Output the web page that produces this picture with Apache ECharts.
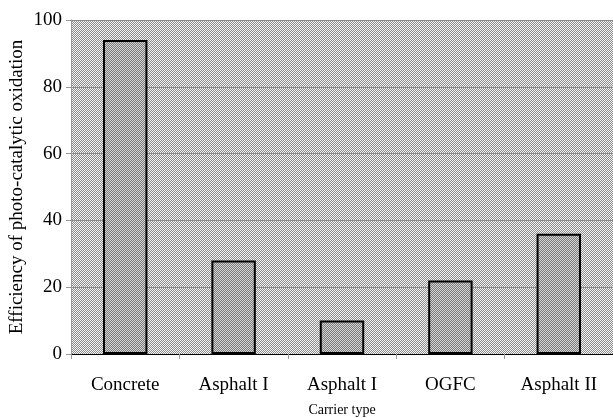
<!DOCTYPE html>
<html>
<head>
<meta charset="utf-8">
<script src="https://cdn.jsdelivr.net/npm/echarts@6/dist/echarts.min.js"></script>
<style>
  html, body { margin: 0; padding: 0; background: #fff; }
  #chart { width: 613px; height: 418px; }
</style>
</head>
<body>
<div id="chart"></div>
<script>
const categories = ["Concrete", "Asphalt I", "Asphalt I", "OGFC", "Asphalt II"];
const efficiency = [94, 28, 10, 22, 36];
const yTicks = [0, 20, 40, 60, 80, 100];

// 2x2 checker patterns to imitate the stippled fills
function checker(a, b) {
  const c = document.createElement("canvas");
  c.width = 2;
  c.height = 2;
  const ctx = c.getContext("2d");
  ctx.fillStyle = a;
  ctx.fillRect(0, 0, 2, 2);
  ctx.fillStyle = b;
  ctx.fillRect(1, 0, 1, 1);
  ctx.fillRect(0, 1, 1, 1);
  return { image: c, repeat: "repeat" };
}

const chart = echarts.init(document.getElementById("chart"));
const serif = "Liberation Serif";

chart.setOption({
  animation: false,
  grid: {
    left: 71,
    right: 0,
    top: 20,
    bottom: 64,
    outerBoundsMode: "none",
    containLabel: false,
    show: true,
    borderWidth: 0,
    backgroundColor: checker("#f4f4f4", "#8c8c8c"),
  },
  xAxis: {
    type: "category",
    data: categories,
    name: "Carrier type",
    nameLocation: "middle",
    nameGap: 49,
    nameMoveOverlap: false,
    nameTextStyle: { fontFamily: serif, fontSize: 14, color: "#000" },
    axisLine: { lineStyle: { color: "#000", width: 1 } },
    axisTick: { show: true, length: 5, lineStyle: { color: "#999" } },
    axisLabel: { fontFamily: serif, fontSize: 19, color: "#000", margin: 22 },
  },
  yAxis: {
    type: "value",
    min: yTicks[0],
    max: yTicks[yTicks.length - 1],
    interval: 20,
    name: "Efficiency of photo-catalytic oxidation",
    nameLocation: "middle",
    nameGap: 44,
    nameMoveOverlap: false,
    nameTextStyle: { fontFamily: serif, fontSize: 19, color: "#000" },
    axisLine: { show: true, lineStyle: { color: "#999" } },
    axisTick: { show: true, length: 5, lineStyle: { color: "#999" } },
    axisLabel: { fontFamily: serif, fontSize: 19, color: "#000", margin: 9 },
    splitLine: { show: true, lineStyle: { color: "#8a8a8a", width: 1 } },
  },
  series: [
    {
      type: "bar",
      data: efficiency,
      barWidth: "41%",
      itemStyle: {
        color: checker("#d6d6d6", "#7a7a7a"),
        borderColor: "#000",
        borderWidth: 2,
      },
    },
  ],
});
</script>
</body>
</html>
